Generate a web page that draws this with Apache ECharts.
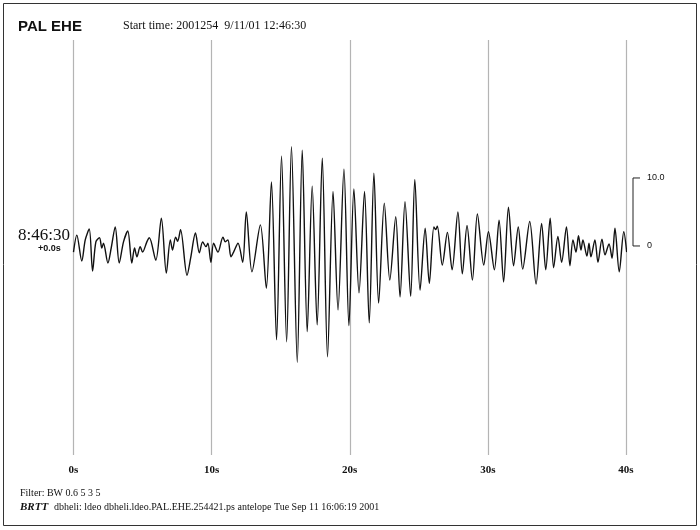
<!DOCTYPE html>
<html>
<head>
<meta charset="utf-8">
<script src="https://cdn.jsdelivr.net/npm/echarts@6/dist/echarts.min.js"></script>
<style>html,body{margin:0;padding:0;background:#fff}#c{width:700px;height:530px}</style>
</head>
<body>
<div id="c"></div>
<script>
// Time (s) since 12:46:30 start
const times = [0.00,0.24,0.60,0.85,1.14,1.38,1.62,1.88,2.05,2.17,2.49,2.73,3.02,3.31,3.62,3.93,4.22,4.42,4.59,4.83,5.00,5.31,5.49,5.96,6.36,6.72,7.01,7.17,7.39,7.54,7.75,8.22,8.48,8.83,9.11,9.35,9.59,9.73,9.95,10.14,10.46,10.82,10.99,11.18,11.40,11.59,11.91,12.25,12.51,12.92,13.53,13.96,14.33,14.70,15.06,15.43,15.78,16.20,16.56,16.92,17.28,17.64,18.01,18.39,18.79,19.15,19.58,19.94,20.30,20.67,21.07,21.41,21.75,22.09,22.50,22.90,23.33,23.64,24.00,24.41,24.71,25.09,25.46,25.76,26.09,26.22,26.34,26.70,27.07,27.41,27.83,28.15,28.49,28.88,29.24,29.70,30.04,30.47,30.81,31.14,31.49,31.86,32.20,32.52,33.03,33.49,33.89,34.19,34.51,34.76,35.07,35.34,35.69,35.94,36.16,36.38,36.56,36.74,36.88,37.17,37.32,37.46,37.75,37.97,38.26,38.48,38.77,38.99,39.20,39.51,39.84,40.05];
// Ground motion amplitude
const amps = [-0.9,1.6,-2.2,0.9,2.5,-3.7,0.6,1.2,-0.3,0.4,-2.5,-0.3,2.8,-2.5,0.6,2.2,-2.5,-0.3,-1.6,-0.1,-0.9,0.6,1.2,-2.1,4.1,-4.0,0.9,-0.6,1.3,0.7,2.4,-4.3,-1.8,1.9,-1.0,0.6,-0.1,0.4,-2.4,0.4,-0.9,1.3,0.6,0.9,-1.6,-0.9,0.4,-2.4,5.0,-3.8,3.1,-6.2,9.4,-13.8,13.2,-14.1,14.6,-17.1,14.1,-12.6,8.8,-11.6,12.9,-16.3,8.0,-9.4,11.3,-11.7,8.4,-6.9,8.0,-11.3,10.7,-8.4,6.3,-5.0,4.3,-7.5,6.5,-7.4,9.8,-6.5,2.6,-5.5,2.8,2.4,2.9,-2.8,2.0,-3.5,5.0,-4.1,3.0,-5.0,4.7,-2.8,2.1,-3.5,3.8,-5.3,5.7,-2.9,2.8,-3.4,3.6,-5.6,3.3,-3.5,4.1,-3.2,1.4,-2.4,2.8,-2.9,0.9,-0.9,1.5,-0.6,0.9,-1.5,0.4,-1.6,0.9,-2.4,1.0,-1.3,0.3,-1.8,2.6,-3.8,2.1,-0.9];
const xTicks = [0, 10, 20, 30, 40];
const scaleBar = [0, 10.0];
const scaleLabels = ['0', '10.0'];

const chart = echarts.init(document.getElementById('c'), null, {renderer: 'canvas'});
const serif = "'Liberation Serif', 'DejaVu Serif', serif";
const sans = "'Liberation Sans', Arial, sans-serif";

chart.setOption({
  animation: false,
  backgroundColor: '#fff',
  grid: {left: 73.5, right: 74, top: 40, bottom: 75},
  xAxis: {
    type: 'value', min: xTicks[0], max: xTicks[xTicks.length - 1], interval: 10,
    axisLine: {show: false}, axisTick: {show: false},
    splitLine: {show: true, lineStyle: {color: '#b4b4b4', width: 1.2}},
    axisLabel: {formatter: '{value}s', fontFamily: serif, fontWeight: 'bold', fontSize: 11, color: '#111', margin: 10}
  },
  yAxis: {
    type: 'value', min: -30.74, max: 30.29, show: false
  },
  series: [{
    type: 'line',
    data: times.map((t, i) => [t, amps[i]]),
    showSymbol: false,
    smooth: 0.3,
    clip: false,
    lineStyle: {color: '#111', width: 1.4}
  }]
});

const y0 = chart.convertToPixel({yAxisIndex: 0}, scaleBar[0]);
const y10 = chart.convertToPixel({yAxisIndex: 0}, scaleBar[1]);
const bx = 633;

chart.setOption({
  graphic: [
    {type: 'rect', shape: {x: 3.5, y: 3.5, width: 693, height: 522}, style: {fill: 'none', stroke: '#333', lineWidth: 1}, silent: true},
    {type: 'text', left: 18, top: 19, style: {text: 'PAL EHE', font: "bold 15px " + sans, fill: '#111'}},
    {type: 'text', left: 123, top: 20, style: {text: 'Start time: 2001254  9/11/01 12:46:30', font: "12px " + serif, fill: '#111'}},
    {type: 'text', left: 18, top: 227, style: {text: '8:46:30', font: "17px " + serif, fill: '#111'}},
    {type: 'text', left: 38, top: 244, style: {text: '+0.0s', font: "bold 9px " + sans, fill: '#111'}},
    {type: 'polyline', shape: {points: [[bx + 7, y10], [bx, y10], [bx, y0], [bx + 7, y0]]}, style: {stroke: '#222', lineWidth: 1, fill: 'none'}},
    {type: 'text', x: bx + 14, y: y10, style: {text: scaleLabels[1], font: "9px " + sans, fill: '#111', verticalAlign: 'middle'}},
    {type: 'text', x: bx + 14, y: y0, style: {text: scaleLabels[0], font: "9px " + sans, fill: '#111', verticalAlign: 'middle'}},
    {type: 'text', left: 20, top: 488, style: {text: 'Filter: BW 0.6 5 3 5', font: "10px " + serif, fill: '#111'}},
    {type: 'text', left: 20, top: 502, style: {text: 'BRTT', font: "italic bold 11px " + serif, fill: '#111'}},
    {type: 'text', left: 54, top: 502, style: {text: 'dbheli: ldeo dbheli.ldeo.PAL.EHE.254421.ps antelope Tue Sep 11 16:06:19 2001', font: "10px " + serif, fill: '#111'}}
  ]
});
</script>
</body>
</html>
